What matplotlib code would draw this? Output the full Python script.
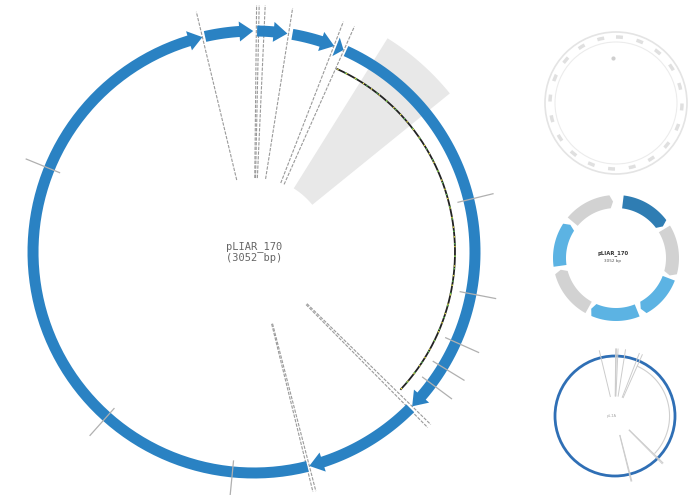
import numpy as np
import matplotlib
matplotlib.use('Agg')
import matplotlib.pyplot as plt
from matplotlib.patches import Polygon, Circle

# ---------------- data (angles in degrees, clockwise from 12 o'clock) ----------------
plasmid_name = 'pLIAR_170'
plasmid_len = 3052

feat_start = [166.0, 347.2, 0.8, 10.0, 21.8, 24.6, 135.0]
feat_end = [346.5, 359.8, 8.7, 21.3, 23.9, 134.3, 165.5]

site_angles = [-13.5, 0.6, 1.2, 2.6, 9.0, 21.2, 24.0, 134.3, 135.3, 165.5, 166.2]
tick_angles = [76.3, 100.9, 114.1, 121.4, 126.6, 185.6, 221.8, 292.2]

wedge_from, wedge_to = 32.0, 51.0
track_from, track_to = 24.5, 133.0

thumb_start = [7, 59, 111, 158, 209, 262, 310]
thumb_end = [56, 108, 154, 206, 258, 306, 357]
thumb_kind = ['dark', 'gray', 'light', 'light', 'gray', 'light', 'gray']

BLUE = '#2a82c3'
thumb_cols = {'dark': '#2f7db3', 'light': '#5cb3e3', 'gray': '#d2d2d2'}


def pol(theta, r, cx, cy):
    t = np.radians(theta)
    return cx + r * np.sin(t), cy - r * np.cos(t)


def arrow_poly(a0, a1, cx, cy, rc, w, hw, head_deg):
    base = max(a0, a1 - head_deg)
    arc = np.linspace(a0, base, 80)
    ox, oy = pol(arc, rc + w / 2, cx, cy)
    ix, iy = pol(arc[::-1], rc - w / 2, cx, cy)
    hx1, hy1 = pol(base, rc + hw, cx, cy)
    tx, ty = pol(a1, rc, cx, cy)
    hx2, hy2 = pol(base, rc - hw, cx, cy)
    xs = np.concatenate([ox, [hx1, tx, hx2], ix])
    ys = np.concatenate([oy, [hy1, ty, hy2], iy])
    return np.column_stack([xs, ys])


fig = plt.figure(figsize=(6.95, 4.95), dpi=100)
ax = fig.add_axes([0, 0, 1, 1])
ax.set_xlim(0, 695)
ax.set_ylim(495, 0)
ax.set_aspect('equal')
ax.axis('off')

# ----------------------------- main map --------------------------------------------
cx, cy, R = 254, 252, 221

# grey selection wedge
a = np.linspace(wedge_from, wedge_to, 60)
x1, y1 = pol(a, 252, cx, cy)
x2, y2 = pol(a[::-1], 75, cx, cy)
ax.add_patch(Polygon(np.column_stack([np.r_[x1, x2], np.r_[y1, y2]]),
                     closed=True, fc='#e8e8e8', ec='none', zorder=1))

# enzyme / site lines
for s in site_angles:
    xs, ys = pol(np.array([s, s]), np.array([74, 247]), cx, cy)
    ax.plot(xs, ys, color='#9a9a9a', lw=0.8, ls=(0, (3, 1.2)), zorder=2)

# feature ring
for a0, a1 in zip(feat_start, feat_end):
    ax.add_patch(Polygon(arrow_poly(a0, a1, cx, cy, R, 11, 10, 3.6), closed=True,
                         fc=BLUE, ec='none', zorder=3))

# ticks across the ring
for t in tick_angles:
    xs, ys = pol(np.array([t, t]), np.array([210, 246]), cx, cy)
    ax.plot(xs, ys, color='#b0b0b0', lw=0.9, zorder=4)

# sequence track (black with coloured specks)
a = np.linspace(track_from, track_to, 400)
tx, ty = pol(a, 201, cx, cy)
ax.plot(tx, ty, color='#222222', lw=1.3, zorder=3)
ax.plot(tx, ty, color='#e6e04a', lw=1.0, ls=(0, (1, 6)), zorder=3)
ax.plot(tx, ty, color='#5fbf55', lw=1.0, ls=(3, (1, 8)), zorder=3)

ax.text(cx, cy, f'{plasmid_name}\n({plasmid_len} bp)', ha='center', va='center',
        family='DejaVu Sans Mono', fontsize=7.5, color='#666666', linespacing=1.1)

# ----------------------------- thumbnails -------------------------------------------
# 1: faint circular outline
tcx, tcy = 616, 103
ax.add_patch(Circle((tcx, tcy), 71, fill=False, ec='#e4e4e4', lw=1.2))
ax.add_patch(Circle((tcx, tcy), 61, fill=False, ec='#ececec', lw=0.8))
ax.add_patch(Circle((tcx, tcy), 66, fill=False, ec='#e0e0e0', lw=2.5, ls=(0, (2, 4))))
ax.plot([613], [58], marker='o', ms=2, color='#cfcfcf')

# 2: coloured feature ring
tcx, tcy = 616, 258
for a0, a1, k in zip(thumb_start, thumb_end, thumb_kind):
    ax.add_patch(Polygon(arrow_poly(a0, a1, tcx, tcy, 56.5, 13, 6.5, 3), closed=True,
                         fc=thumb_cols[k], ec='none'))
ax.text(tcx - 3, tcy - 5, plasmid_name, ha='center', va='center', fontsize=3.8,
        weight='bold', color='#333333')
ax.text(tcx - 3, tcy + 3, f'{plasmid_len} bp', ha='center', va='center', fontsize=3,
        color='#555555')

# 3: scaled linear overview
tcx, tcy, tr = 615, 416, 60
sc = tr / R
ax.add_patch(Circle((tcx, tcy), tr, fill=False, ec='#2f6fb5', lw=2))
for s in site_angles:
    xs, ys = pol(np.array([s, s]), np.array([74, 247]) * sc, tcx, tcy)
    ax.plot(xs, ys, color='#cccccc', lw=0.7)
a = np.linspace(track_from, track_to, 200)
tx, ty = pol(a, 201 * sc, tcx, tcy)
ax.plot(tx, ty, color='#cfcfcf', lw=0.8)
ax.text(tcx - 3, tcy, plasmid_name[:4], ha='center', va='center', fontsize=3,
        color='#aaaaaa', family='DejaVu Sans Mono')

fig.savefig('out.png', dpi=100)
